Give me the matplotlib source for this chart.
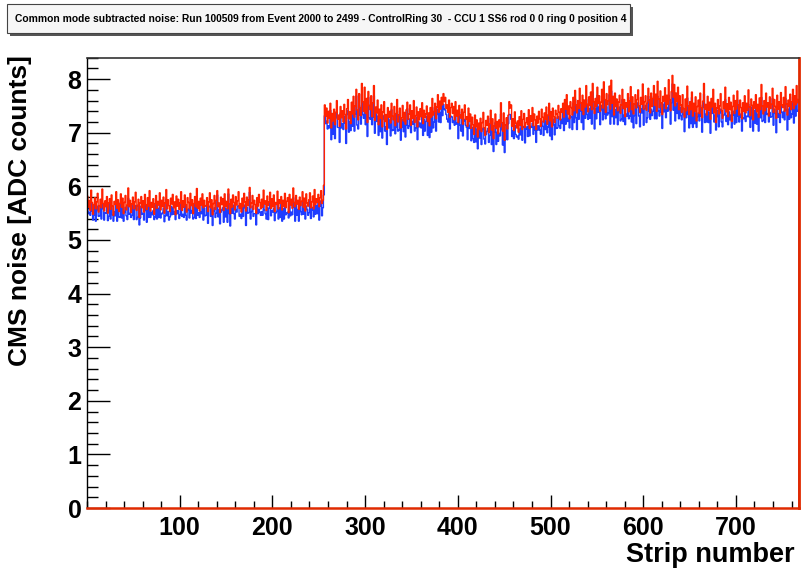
import numpy as np
import matplotlib
matplotlib.use("Agg")
import matplotlib.pyplot as plt
from matplotlib.patches import Rectangle
from matplotlib.ticker import MultipleLocator, FixedLocator, NullFormatter

# ---- noise per strip, grouped by APV chip (128 strips each) ----
# red: CMS noise (drawn on top), blue: second noise estimate (drawn below)
red_apv1 = [
    5.82, 5.61, 5.74, 5.55, 5.93, 5.70, 5.48, 5.66, 5.79, 5.58,
    5.71, 5.87, 5.52, 5.64, 5.76, 5.60, 5.95, 5.68, 5.54, 5.73,
    5.62, 5.81, 5.50, 5.69, 5.77, 5.57, 5.84, 5.63, 5.46, 5.72,
    5.66, 5.90, 5.59, 5.75, 5.53, 5.68, 5.86, 5.61, 5.78, 5.49,
    5.70, 5.83, 5.56, 5.65, 5.97, 5.62, 5.74, 5.51, 5.67, 5.80,
    5.58, 5.71, 5.89, 5.55, 5.64, 5.76, 5.42, 5.69, 5.81, 5.60,
    5.73, 5.52, 5.85, 5.66, 5.57, 5.79, 5.63, 5.92, 5.54, 5.70,
    5.61, 5.77, 5.48, 5.68, 5.83, 5.59, 5.72, 5.65, 5.88, 5.56,
    5.74, 5.62, 5.80, 5.50, 5.69, 5.94, 5.58, 5.75, 5.64, 5.53,
    5.78, 5.67, 5.85, 5.60, 5.71, 5.47, 5.82, 5.63, 5.76, 5.57,
    5.69, 5.90, 5.55, 5.73, 5.61, 5.84, 5.66, 5.52, 5.79, 5.70,
    5.58, 5.87, 5.64, 5.75, 5.49, 5.68, 5.81, 5.62, 5.96, 5.59,
    5.72, 5.54, 5.78, 5.65, 5.86, 5.60, 5.74, 5.63,
]
red_apv2 = [
    5.64, 5.79, 5.53, 5.71, 5.88, 5.60, 5.75, 5.47, 5.68, 5.83,
    5.57, 5.74, 5.92, 5.62, 5.69, 5.51, 5.80, 5.66, 5.77, 5.55,
    5.86, 5.63, 5.72, 5.58, 5.95, 5.67, 5.49, 5.76, 5.61, 5.84,
    5.70, 5.56, 5.81, 5.65, 5.73, 5.90, 5.59, 5.68, 5.52, 5.78,
    5.62, 5.87, 5.71, 5.54, 5.80, 5.64, 5.75, 5.98, 5.60, 5.69,
    5.83, 5.57, 5.74, 5.66, 5.50, 5.79, 5.63, 5.85, 5.70, 5.58,
    5.76, 5.61, 5.93, 5.67, 5.73, 5.55, 5.82, 5.64, 5.71, 5.89,
    5.59, 5.77, 5.62, 5.84, 5.53, 5.70, 5.66, 5.91, 5.58, 5.75,
    5.68, 5.81, 5.56, 5.74, 5.63, 5.87, 5.60, 5.72, 5.79, 5.51,
    5.85, 5.65, 5.76, 5.59, 5.97, 5.70, 5.62, 5.83, 5.67, 5.74,
    5.57, 5.80, 5.64, 5.72, 5.90, 5.61, 5.78, 5.54, 5.86, 5.69,
    5.63, 5.75, 5.88, 5.60, 5.71, 5.82, 5.58, 5.94, 5.66, 5.77,
    5.70, 5.85, 5.62, 5.79, 5.92, 5.68, 5.74, 6.02,
]
red_apv3 = [
    7.52, 7.31, 7.46, 7.18, 7.40, 7.27, 7.55, 7.09, 7.36, 7.22,
    7.44, 7.15, 7.38, 7.60, 7.25, 7.33, 7.12, 7.49, 7.28, 7.41,
    7.20, 7.53, 7.34, 7.07, 7.45, 7.62, 7.26, 7.39, 7.17, 7.57,
    7.35, 7.68, 7.29, 7.50, 7.81, 7.42, 7.24, 7.73, 7.47, 7.32,
    7.92, 7.58, 7.40, 7.85, 7.36, 7.64, 7.19, 7.77, 7.51, 7.43,
    7.69, 7.30, 7.56, 7.88, 7.23, 7.48, 7.37, 7.61, 7.15, 7.44,
    7.27, 7.52, 7.11, 7.39, 7.58, 7.21, 7.34, 7.06, 7.47, 7.29,
    7.40, 7.18, 7.55, 7.31, 7.24, 7.49, 7.13, 7.36, 7.62, 7.20,
    7.33, 7.46, 7.09, 7.28, 7.51, 7.22, 7.38, 7.16, 7.43, 7.57,
    7.25, 7.35, 7.52, 7.14, 7.41, 7.27, 7.60, 7.19, 7.32, 7.48,
    7.11, 7.39, 7.24, 7.45, 7.30, 7.56, 7.17, 7.42, 7.28, 7.35,
    7.50, 7.21, 7.37, 7.13, 7.47, 7.29, 7.64, 7.33, 7.40, 7.55,
    7.26, 7.48, 7.71, 7.38, 7.59, 7.44, 7.66, 7.52,
]
red_apv4 = [
    7.73, 7.58, 7.66, 7.45, 7.52, 7.38, 7.61, 7.29, 7.47, 7.55,
    7.36, 7.49, 7.24, 7.58, 7.31, 7.42, 7.19, 7.51, 7.33, 7.27,
    7.44, 7.16, 7.38, 7.52, 7.25, 7.30, 7.12, 7.46, 7.21, 7.35,
    7.08, 7.29, 7.15, 6.97, 7.33, 7.11, 7.24, 6.92, 7.18, 7.06,
    7.27, 7.02, 7.19, 7.38, 7.09, 6.95, 7.23, 7.14, 7.31, 7.00,
    7.17, 7.42, 7.05, 7.26, 6.89, 7.13, 7.35, 7.08, 7.21, 6.98,
    7.24, 7.11, 7.56, 7.19, 7.03, 7.37, 6.86, 7.15, 7.28, 7.07,
    7.33, 7.58, 7.46, 7.52, 7.12, 7.26, 7.04, 7.39, 7.18, 7.09,
    7.22, 7.01, 7.30, 7.14, 7.41, 7.06, 7.25, 7.36, 7.10, 7.19,
    7.28, 7.15, 7.43, 7.08, 7.32, 7.21, 7.47, 7.13, 7.35, 7.24,
    7.06, 7.31, 7.18, 7.40, 7.26, 7.12, 7.44, 7.29, 7.20, 7.37,
    7.25, 7.48, 7.16, 7.33, 7.55, 7.22, 7.39, 7.11, 7.46, 7.30,
    7.19, 7.42, 7.35, 7.27, 7.51, 7.38, 7.24, 7.45,
]
red_apv5 = [
    7.38, 7.55, 7.29, 7.62, 7.44, 7.71, 7.35, 7.50, 7.26, 7.58,
    7.47, 7.33, 7.66, 7.41, 7.79, 7.52, 7.37, 7.60, 7.45, 7.83,
    7.56, 7.42, 7.70, 7.34, 7.61, 7.48, 7.88, 7.53, 7.39, 7.67,
    7.51, 7.76, 7.43, 7.92, 7.58, 7.36, 7.64, 7.49, 7.85, 7.55,
    7.69, 7.40, 7.57, 7.81, 7.46, 7.95, 7.62, 7.38, 7.73, 7.52,
    7.60, 7.87, 7.44, 7.98, 7.55, 7.68, 7.33, 7.74, 7.49, 7.63,
    7.41, 7.57, 7.70, 7.36, 7.52, 7.81, 7.45, 7.62, 7.30, 7.56,
    7.48, 7.73, 7.39, 7.59, 7.86, 7.43, 7.67, 7.35, 7.54, 7.71,
    7.46, 7.62, 7.80, 7.50, 7.38, 7.66, 7.53, 7.91, 7.44, 7.58,
    7.69, 7.42, 7.55, 7.83, 7.61, 7.37, 7.74, 7.49, 7.64, 7.88,
    7.51, 7.72, 7.40, 7.96, 7.63, 7.47, 7.78, 7.56, 7.34, 7.68,
    7.59, 7.84, 7.45, 7.70, 7.53, 7.99, 7.62, 7.41, 7.77, 8.07,
    7.66, 7.90, 7.50, 7.74, 7.58, 7.85, 7.43, 7.69,
]
red_apv6 = [
    7.52, 7.38, 7.71, 7.45, 7.29, 7.63, 7.41, 7.87, 7.50, 7.34,
    7.58, 7.43, 7.76, 7.31, 7.55, 7.40, 7.67, 7.22, 7.49, 7.61,
    7.36, 7.74, 7.47, 7.28, 7.59, 7.92, 7.44, 7.53, 7.33, 7.68,
    7.42, 7.57, 7.25, 7.64, 7.48, 7.81, 7.37, 7.55, 7.19, 7.46,
    7.62, 7.35, 7.50, 7.73, 7.41, 7.27, 7.58, 7.45, 7.85, 7.39,
    7.54, 7.30, 7.66, 7.43, 7.57, 7.21, 7.49, 7.70, 7.36, 7.60,
    7.44, 7.78, 7.52, 7.33, 7.61, 7.47, 7.26, 7.56, 7.40, 7.69,
    7.37, 7.55, 7.42, 7.80, 7.48, 7.32, 7.63, 7.51, 7.24, 7.58,
    7.46, 7.71, 7.39, 7.53, 7.29, 7.65, 7.43, 7.90, 7.50, 7.35,
    7.60, 7.41, 7.74, 7.48, 7.56, 7.31, 7.67, 7.45, 7.53, 7.83,
    7.38, 7.62, 7.49, 7.27, 7.70, 7.44, 7.58, 7.36, 7.75, 7.52,
    7.47, 7.66, 7.40, 7.86, 7.54, 7.33, 7.61, 7.49, 7.72, 7.43,
    7.58, 7.81, 7.45, 7.69, 7.52, 7.88, 7.56, 7.62,
]

blue_apv1 = [
    5.64, 5.49, 5.52, 5.46, 5.68, 5.54, 5.37, 5.46, 5.65, 5.35,
    5.56, 5.63, 5.44, 5.45, 5.63, 5.39, 5.67, 5.58, 5.37, 5.51,
    5.50, 5.61, 5.36, 5.44, 5.68, 5.39, 5.61, 5.47, 5.35, 5.53,
    5.45, 5.73, 5.35, 5.62, 5.43, 5.42, 5.71, 5.41, 5.66, 5.35,
    5.52, 5.61, 5.45, 5.38, 5.78, 5.48, 5.50, 5.42, 5.46, 5.64,
    5.38, 5.58, 5.64, 5.38, 5.42, 5.66, 5.28, 5.41, 5.63, 5.48,
    5.50, 5.37, 5.66, 5.55, 5.33, 5.63, 5.42, 5.66, 5.42, 5.52,
    5.47, 5.55, 5.38, 5.43, 5.66, 5.39, 5.59, 5.42, 5.69, 5.41,
    5.48, 5.51, 5.59, 5.34, 5.45, 5.76, 5.45, 5.53, 5.37, 5.43,
    5.63, 5.47, 5.61, 5.48, 5.53, 5.38, 5.55, 5.49, 5.55, 5.40,
    5.47, 5.74, 5.44, 5.48, 5.42, 5.71, 5.46, 5.37, 5.56, 5.58,
    5.41, 5.63, 5.50, 5.55, 5.39, 5.42, 5.66, 5.40, 5.78, 5.46,
    5.51, 5.42, 5.53, 5.49, 5.67, 5.37, 5.60, 5.45,
]
blue_apv2 = [
    5.46, 5.67, 5.31, 5.62, 5.63, 5.44, 5.64, 5.27, 5.54, 5.60,
    5.42, 5.50, 5.84, 5.43, 5.56, 5.30, 5.52, 5.56, 5.60, 5.33,
    5.74, 5.43, 5.58, 5.33, 5.86, 5.49, 5.26, 5.60, 5.50, 5.65,
    5.49, 5.39, 5.57, 5.52, 5.63, 5.64, 5.44, 5.48, 5.40, 5.64,
    5.44, 5.65, 5.60, 5.27, 5.61, 5.50, 5.51, 5.89, 5.39, 5.53,
    5.63, 5.44, 5.49, 5.49, 5.28, 5.69, 5.49, 5.57, 5.52, 5.46,
    5.53, 5.46, 5.74, 5.56, 5.49, 5.39, 5.61, 5.38, 5.59, 5.71,
    5.45, 5.55, 5.52, 5.59, 5.36, 5.50, 5.53, 5.68, 5.39, 5.60,
    5.42, 5.70, 5.35, 5.58, 5.39, 5.69, 5.47, 5.50, 5.52, 5.41,
    5.70, 5.45, 5.52, 5.47, 5.79, 5.61, 5.35, 5.69, 5.46, 5.57,
    5.35, 5.64, 5.53, 5.47, 5.71, 5.48, 5.58, 5.39, 5.63, 5.57,
    5.46, 5.51, 5.74, 5.40, 5.61, 5.56, 5.43, 5.72, 5.48, 5.64,
    5.49, 5.73, 5.37, 5.63, 5.73, 5.45, 5.60, 5.84,
]
blue_apv3 = [
    7.32, 7.17, 7.22, 7.07, 7.13, 7.09, 7.42, 6.87, 7.20, 6.97,
    7.27, 6.89, 7.28, 7.39, 7.10, 7.10, 6.82, 7.37, 7.09, 7.17,
    7.06, 7.31, 7.18, 6.80, 7.34, 7.42, 7.01, 7.21, 7.04, 7.36,
    7.12, 7.49, 7.03, 7.35, 7.69, 7.14, 7.07, 7.51, 7.33, 7.16,
    7.72, 7.34, 7.27, 7.56, 7.15, 7.48, 6.93, 7.66, 7.28, 7.25,
    7.47, 7.15, 7.29, 7.69, 6.99, 7.36, 7.21, 7.31, 6.95, 7.30,
    7.02, 7.35, 6.90, 7.26, 7.32, 7.03, 7.11, 6.78, 7.33, 7.09,
    7.24, 6.94, 7.43, 7.04, 7.05, 7.27, 6.98, 7.11, 7.41, 7.03,
    7.05, 7.33, 6.86, 7.10, 7.25, 7.02, 7.23, 6.92, 7.14, 7.45,
    7.08, 7.13, 7.26, 7.00, 7.21, 7.16, 7.31, 7.03, 7.09, 7.29,
    6.87, 7.21, 7.11, 7.18, 7.09, 7.41, 6.95, 7.25, 7.03, 7.21,
    7.31, 6.95, 7.21, 6.91, 7.35, 7.01, 7.47, 7.09, 7.20, 7.40,
    7.03, 7.34, 7.44, 7.20, 7.38, 7.19, 7.50, 7.32,
]
blue_apv4 = [
    7.53, 7.44, 7.42, 7.34, 7.25, 7.20, 7.48, 7.07, 7.31, 7.30,
    7.19, 7.23, 7.14, 7.37, 7.16, 7.19, 6.89, 7.39, 7.14, 7.03,
    7.30, 6.94, 7.22, 7.25, 7.14, 7.10, 6.87, 7.28, 7.08, 7.14,
    6.85, 7.10, 6.89, 6.82, 7.21, 6.83, 7.07, 6.70, 7.04, 6.90,
    7.07, 6.78, 7.06, 7.09, 6.88, 6.79, 6.97, 7.03, 7.08, 6.82,
    6.95, 7.27, 6.78, 7.07, 6.65, 7.01, 7.19, 6.78, 7.01, 6.84,
    6.99, 6.94, 7.35, 7.06, 6.77, 7.19, 6.63, 6.87, 7.14, 6.87,
    7.17, 7.34, 7.34, 7.25, 6.93, 7.04, 6.89, 7.14, 6.97, 6.92,
    6.94, 6.88, 7.07, 6.96, 7.15, 6.86, 7.10, 7.12, 6.81, 7.07,
    7.11, 6.93, 7.17, 6.94, 7.12, 7.10, 7.18, 6.97, 7.12, 7.05,
    6.82, 7.13, 7.05, 7.13, 7.05, 6.97, 7.22, 7.12, 6.95, 7.23,
    7.06, 7.22, 7.00, 7.11, 7.43, 6.94, 7.22, 6.87, 7.26, 7.15,
    6.96, 7.28, 7.08, 7.09, 7.30, 7.13, 7.08, 7.25,
]
blue_apv5 = [
    7.17, 7.40, 7.04, 7.50, 7.16, 7.52, 7.21, 7.27, 7.09, 7.32,
    7.29, 7.06, 7.55, 7.19, 7.63, 7.28, 7.06, 7.47, 7.25, 7.58,
    7.41, 7.19, 7.53, 7.06, 7.49, 7.27, 7.62, 7.34, 7.25, 7.45,
    7.27, 7.56, 7.16, 7.76, 7.45, 7.07, 7.46, 7.26, 7.70, 7.38,
    7.48, 7.15, 7.43, 7.51, 7.24, 7.78, 7.35, 7.26, 7.49, 7.33,
    7.37, 7.71, 7.16, 7.78, 7.30, 7.55, 7.16, 7.43, 7.28, 7.48,
    7.15, 7.39, 7.48, 7.22, 7.25, 7.62, 7.21, 7.33, 7.15, 7.35,
    7.31, 7.48, 7.26, 7.31, 7.66, 7.20, 7.51, 7.09, 7.32, 7.53,
    7.17, 7.48, 7.56, 7.31, 7.11, 7.45, 7.37, 7.66, 7.14, 7.45,
    7.51, 7.19, 7.28, 7.68, 7.40, 7.25, 7.44, 7.32, 7.40, 7.68,
    7.26, 7.53, 7.26, 7.68, 7.41, 7.31, 7.55, 7.38, 7.08, 7.53,
    7.39, 7.57, 7.28, 7.47, 7.40, 7.70, 7.44, 7.16, 7.56, 7.91,
    7.42, 7.75, 7.22, 7.55, 7.36, 7.59, 7.26, 7.48,
]
blue_apv6 = [
    7.32, 7.24, 7.47, 7.34, 7.02, 7.45, 7.28, 7.65, 7.34, 7.09,
    7.41, 7.17, 7.66, 7.10, 7.40, 7.17, 7.37, 7.10, 7.30, 7.37,
    7.22, 7.52, 7.31, 7.01, 7.48, 7.72, 7.19, 7.35, 7.20, 7.47,
    7.19, 7.38, 6.99, 7.49, 7.36, 7.53, 7.20, 7.33, 7.05, 7.30,
    7.42, 7.11, 7.37, 7.44, 7.20, 7.11, 7.32, 7.34, 7.62, 7.21,
    7.32, 7.15, 7.39, 7.24, 7.33, 7.09, 7.33, 7.40, 7.16, 7.46,
    7.19, 7.61, 7.31, 7.20, 7.35, 7.29, 7.03, 7.28, 7.26, 7.49,
    7.21, 7.31, 7.30, 7.53, 7.29, 7.10, 7.48, 7.26, 7.03, 7.41,
    7.18, 7.58, 7.16, 7.35, 7.03, 7.45, 7.28, 7.66, 7.21, 7.23,
    7.43, 7.19, 7.48, 7.34, 7.36, 7.20, 7.38, 7.29, 7.30, 7.64,
    7.14, 7.44, 7.36, 7.00, 7.49, 7.29, 7.36, 7.19, 7.50, 7.38,
    7.28, 7.40, 7.24, 7.64, 7.42, 7.05, 7.44, 7.25, 7.52, 7.28,
    7.35, 7.67, 7.18, 7.51, 7.31, 7.63, 7.40, 7.42,
]

title = ("Common mode subtracted noise: Run 100509 from Event 2000 to 2499 - "
         "ControlRing 30  - CCU 1 SS6 rod 0 0 ring 0 position 4")
x_title = "Strip number"
y_title = "CMS noise [ADC counts]"
x_tick_values = [100, 200, 300, 400, 500, 600, 700]

red = np.concatenate([red_apv1, red_apv2, red_apv3, red_apv4, red_apv5, red_apv6])
blue = np.concatenate([blue_apv1, blue_apv2, blue_apv3, blue_apv4, blue_apv5, blue_apv6])
edges = np.arange(len(red) + 1)

# ---- figure ----
W, H = 803, 573
plt.rcParams['font.family'] = ['Liberation Sans', 'DejaVu Sans']
plt.rcParams['font.weight'] = 'bold'
fig = plt.figure(figsize=(W / 100, H / 100), dpi=100, facecolor='white')

ax_l, ax_r, ax_t, ax_b = 87, 799, 57.7, 508
ax = fig.add_axes([ax_l / W, 1 - ax_b / H, (ax_r - ax_l) / W, (ax_b - ax_t) / H])

RED = '#ff2200'
BLUE = '#1f3cff'
ax.stairs(blue, edges, baseline=0, color=BLUE, lw=1.0, zorder=2)
ax.stairs(red, edges, baseline=0, color=RED, lw=1.0, zorder=3)

ax.set_xlim(edges[0], edges[-1])
ax.set_ylim(0, 8.4)

ax.xaxis.set_major_locator(FixedLocator(x_tick_values))
ax.xaxis.set_minor_locator(MultipleLocator(20))
ax.yaxis.set_major_locator(MultipleLocator(1))
ax.yaxis.set_minor_locator(MultipleLocator(0.2))

ax.tick_params(axis='y', which='major', direction='in', length=16.5, width=1.0,
               pad=4, labelsize=18, color='black')
ax.tick_params(axis='y', which='minor', direction='in', length=8, width=1.0, color='black')
ax.tick_params(axis='x', which='major', direction='in', length=9.5, width=1.0,
               pad=5.5, labelsize=18, color='black')
ax.tick_params(axis='x', which='minor', direction='in', length=5, width=1.0, color='black')

ax.spines['left'].set_color('black')
ax.spines['left'].set_linewidth(1.0)
ax.spines['top'].set_color('#333333')
ax.spines['top'].set_linewidth(1.2)
ax.spines['right'].set_color('#e02a00')
ax.spines['right'].set_linewidth(2.0)
ax.spines['bottom'].set_color('#e02a00')
ax.spines['bottom'].set_linewidth(1.8)
for s in ax.spines.values():
    s.set_zorder(4)

# axis titles, aligned to the far end of each axis
fig.text(795 / W, 1 - 562 / H, x_title, fontsize=19.5, fontweight='bold',
         ha='right', va='baseline')
fig.text(20 / W, 1 - 55 / H, y_title, fontsize=19, fontweight='bold',
         rotation=90, ha='center', va='top')

# title box with drop shadow
bx0, by0, bx1, by1 = 7, 4, 630, 33
fig.patches.append(Rectangle(((bx0 + 3) / W, 1 - (by1 + 3) / H), (bx1 - bx0) / W,
                             (by1 - by0) / H, transform=fig.transFigure,
                             facecolor='#555555', edgecolor='none', zorder=1))
fig.patches.append(Rectangle((bx0 / W, 1 - by1 / H), (bx1 - bx0) / W,
                             (by1 - by0) / H, transform=fig.transFigure,
                             facecolor='#f6f6f6', edgecolor='#444444', lw=0.8, zorder=2))
t = fig.text(15 / W, 1 - 19 / H, title, fontsize=7.5, fontweight='bold',
             ha='left', va='center', zorder=3)
fig.canvas.draw()
w = t.get_window_extent().width
t.set_fontsize(7.5 * 608 / w)

fig.savefig('out.png', dpi=100, facecolor='white')
